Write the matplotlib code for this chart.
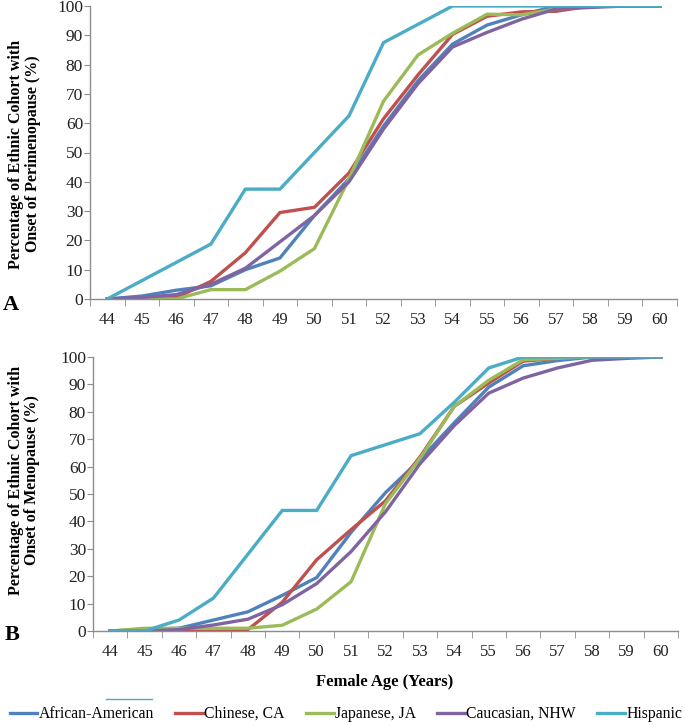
import matplotlib
matplotlib.use("Agg")
import matplotlib.pyplot as plt
from matplotlib.lines import Line2D
import numpy as np

plt.rcParams['font.family'] = ['Liberation Serif', 'DejaVu Serif']

ages = [44, 45, 46, 47, 48, 49, 50, 51, 52, 53, 54, 55, 56, 57, 58, 59, 60]
labels = ["African-American", "Chinese, CA", "Japanese, JA", "Caucasian, NHW", "Hispanic"]
colors = ["#4F81BD", "#C0504D", "#9BBB59", "#8064A2", "#4BACC6"]

# onset of perimenopause (%)
aa_peri = [0, 1, 3, 4.5, 10, 14, 28.5, 41, 59, 74.5, 87, 93.5, 97, 100, 100, 100, 100]
ca_peri = [0, 0, 0.5, 6, 15.8, 29.5, 31.3, 43, 61.5, 76.5, 90.3, 96.5, 98, 98.2, 100, 100, 100]
ja_peri = [0, 0, 0, 3.2, 3.2, 9.5, 17.2, 41, 67.5, 83.3, 90.7, 97.2, 97, 99, 100, 100, 100]
nhw_peri = [0, 0.5, 1.5, 5, 10.5, 19.5, 28.5, 40, 58, 73.5, 86, 91, 95.5, 99, 99.5, 100, 100]
hisp_peri = [0, 6.25, 12.5, 18.75, 37.5, 37.5, 50, 62.5, 87.5, 93.75, 100, 100, 100, 100, 100, 100, 100]

# onset of menopause (%)
aa_meno = [0, 0.5, 1, 4, 7, 13, 19.5, 36, 50.5, 62.5, 76, 89, 96.8, 98.7, 100, 100, 100]
ca_meno = [0, 0, 0, 0, 0.5, 10.5, 26, 37, 47.5, 63.5, 82, 90.5, 98.5, 99.5, 100, 100, 100]
ja_meno = [0, 1, 1, 1, 1, 2.1, 8, 18, 46.5, 63, 82, 91.5, 99, 99.5, 100, 100, 100]
nhw_meno = [0, 0, 0.5, 2.2, 4.3, 9.6, 17.3, 29, 43.5, 61, 75, 86.8, 92.3, 96, 98.8, 99.5, 100]
hisp_meno = [0, 0, 4, 12, 28, 44, 44, 64, 68, 72, 83.5, 96, 100, 100, 100, 100, 100]

peri = [aa_peri, ca_peri, ja_peri, nhw_peri, hisp_peri]
meno = [aa_meno, ca_meno, ja_meno, nhw_meno, hisp_meno]

W, H = 685, 725
fig = plt.figure(figsize=(W / 100, H / 100), dpi=100)
ax1 = fig.add_axes([90 / W, 1 - 299 / H, 587 / W, 293 / H])
ax2 = fig.add_axes([93 / W, 1 - 631 / H, 585 / W, 274 / H])

gray = "#8C8C8C"
x = np.arange(len(ages))
for ax, series in [(ax1, peri), (ax2, meno)]:
    for s, c, lab in zip(series, colors, labels):
        ax.plot(x, s, color=c, lw=2.4, label=lab, solid_joinstyle='miter')
    ax.set_xlim(-0.5, len(ages) - 0.5)
    ax.set_ylim(0, 100)
    ax.set_yticks(range(0, 101, 10))
    ax.set_xticks(x)
    ax.set_xticklabels([str(a) for a in ages], fontsize=12)
    ax.set_xticks(np.arange(-0.5, len(ages), 1), minor=True)
    ax.tick_params(axis='x', which='major', length=0, pad=9)
    ax.tick_params(axis='x', which='minor', length=5, color=gray, direction='out')
    ax.tick_params(axis='y', length=4, color=gray, direction='out', pad=1, labelsize=12.5)
    for sp in ['top', 'right']:
        ax.spines[sp].set_visible(False)
    for sp in ['left', 'bottom']:
        ax.spines[sp].set_color(gray)
        ax.spines[sp].set_linewidth(1)
    for t in ax.get_xticklabels() + ax.get_yticklabels():
        t.set_color("#222222")

fig.text(24.5 / W, 1 - 154 / H, "Percentage of Ethnic Cohort with\nOnset of Perimenopause (%)",
         rotation=90, ha='center', va='center', fontsize=11.5, fontweight='bold',
         linespacing=1.05, multialignment='center')
fig.text(24 / W, 1 - 480 / H, "Percentage of Ethnic Cohort with\nOnset of Menopause (%)",
         rotation=90, ha='center', va='center', fontsize=11.5, fontweight='bold',
         linespacing=1.05, multialignment='center')

fig.text(10.5 / W, 1 - 305 / H, "A", ha='center', va='center', fontsize=16, fontweight='bold')
fig.text(12.5 / W, 1 - 635 / H, "B", ha='center', va='center', fontsize=16, fontweight='bold')

fig.text(385 / W, 1 - 682 / H, "Female Age (Years)", ha='center', va='center',
         fontsize=12, fontweight='bold')

# stray line above the legend in the original
fig.add_artist(Line2D([106 / W, 152 / W], [1 - 699 / H, 1 - 699 / H], color=colors[4], lw=1))

handles, labs = ax2.get_legend_handles_labels()
fig.legend(handles, labs, loc='center', bbox_to_anchor=(346 / W, 1 - 714 / H), ncol=5,
           frameon=False, fontsize=11.3, handlelength=1.75, handletextpad=0.1,
           columnspacing=1.35, borderpad=0, borderaxespad=0)

fig.savefig("out.png", dpi=100)
